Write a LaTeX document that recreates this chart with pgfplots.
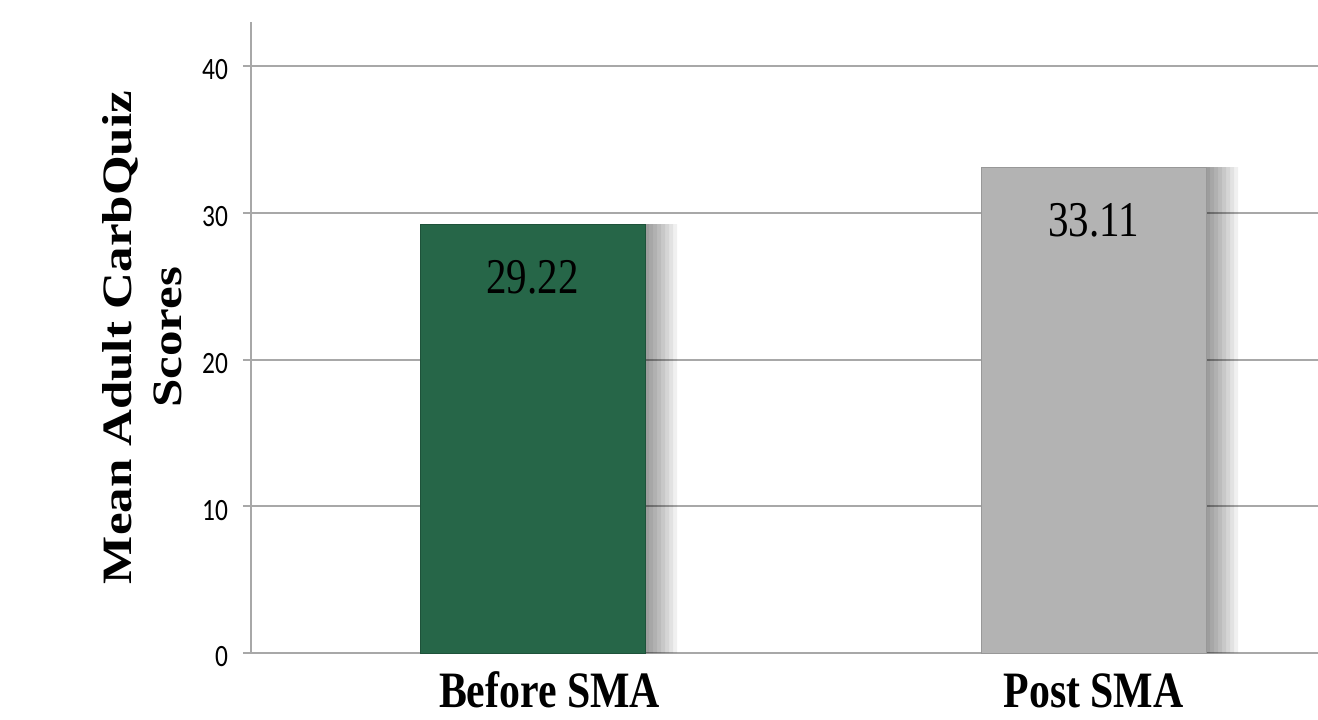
\documentclass[border=0pt]{standalone}
\usepackage{pgfplots}
\pgfplotsset{compat=1.18}
\usepackage{fontspec}
\setmainfont{Liberation Serif}
\newfontfamily\tickfont{Carlito}

\definecolor{barGreen}{RGB}{38,102,72}
\definecolor{barGray}{RGB}{179,179,179}
\definecolor{gridGray}{RGB}{168,168,168}

% the reference is squeezed sideways, so every text is too
\newcommand{\sq}[1]{\scalebox{0.82}[1]{#1}}
\newcommand{\catlab}[1]{\sq{\fontsize{25.5}{30.5}\selectfont\bfseries #1}}
\newcommand{\ytl}[1]{\sq{\tickfont\fontsize{15.5}{18}\selectfont #1}}

\pgfplotsset{
  shade/.style={ybar, bar shift=#1, fill=black, fill opacity=0.06, draw=none, forget plot},
}

\begin{document}
\begin{tikzpicture}
  \begin{axis}[
    name=ax,
    scale only axis,
    width=533.5pt,
    height=315.5pt,
    xmin=-0.502, xmax=1.400,
    ymin=0, ymax=43,
    axis x line*=bottom,
    axis y line*=left,
    axis line style={gridGray, line width=1pt, -},
    xtick={0,1},
    xticklabels={{\hspace*{17pt}\catlab{Before SMA}},{\catlab{Post SMA}}},
    xtick style={draw=none},
    x tick label style={anchor=base, yshift=-23pt},
    ytick={0,10,20,30,40},
    yticklabels={\ytl{0},\ytl{10},\ytl{20},\ytl{30},\ytl{40}},
    ytick style={gridGray, line width=1pt},
    tick align=outside,
    major tick length=4pt,
    y tick label style={xshift=-4pt, yshift=-2pt},
    ymajorgrids,
    major grid style={gridGray, line width=1pt},
    ylabel={\scalebox{1}[0.82]{\fontsize{25.5}{30.5}\selectfont\bfseries
      \begin{tabular}{c}Mean Adult CarbQuiz\\Scores\end{tabular}}},
    y label style={at={(axis description cs:-0.0975,0.5)}, anchor=center},
    bar width=112.5pt,
  ]
    % soft shadow right of the bars
    \addplot[shade=2pt] coordinates {(0,29.22) (1,33.11)};
    \addplot[shade=4pt] coordinates {(0,29.22) (1,33.11)};
    \addplot[shade=6pt] coordinates {(0,29.22) (1,33.11)};
    \addplot[shade=8pt] coordinates {(0,29.22) (1,33.11)};
    \addplot[shade=10pt] coordinates {(0,29.22) (1,33.11)};
    \addplot[shade=12pt] coordinates {(0,29.22) (1,33.11)};
    \addplot[shade=14pt] coordinates {(0,29.22) (1,33.11)};
    \addplot[shade=16pt] coordinates {(0,29.22) (1,33.11)};

    \addplot[ybar, bar shift=0pt, fill=barGreen, draw=barGreen!80!black,
      nodes near coords={\sq{\fontsize{25}{30}\selectfont 29.22}},
      every node near coord/.append style={anchor=center, yshift=-26.5pt, text=black}]
      coordinates {(0,29.22)};
    \addplot[ybar, bar shift=0pt, fill=barGray, draw=barGray!85!black,
      nodes near coords={\sq{\fontsize{25}{30}\selectfont 33.11}},
      every node near coord/.append style={anchor=center, yshift=-26.5pt, text=black}]
      coordinates {(1,33.11)};
  \end{axis}
  \pgfresetboundingbox
  \path[use as bounding box] ([xshift=-125.5pt,yshift=-33pt]ax.south west)
    rectangle ([yshift=11pt]ax.north east);
\end{tikzpicture}
\end{document}
